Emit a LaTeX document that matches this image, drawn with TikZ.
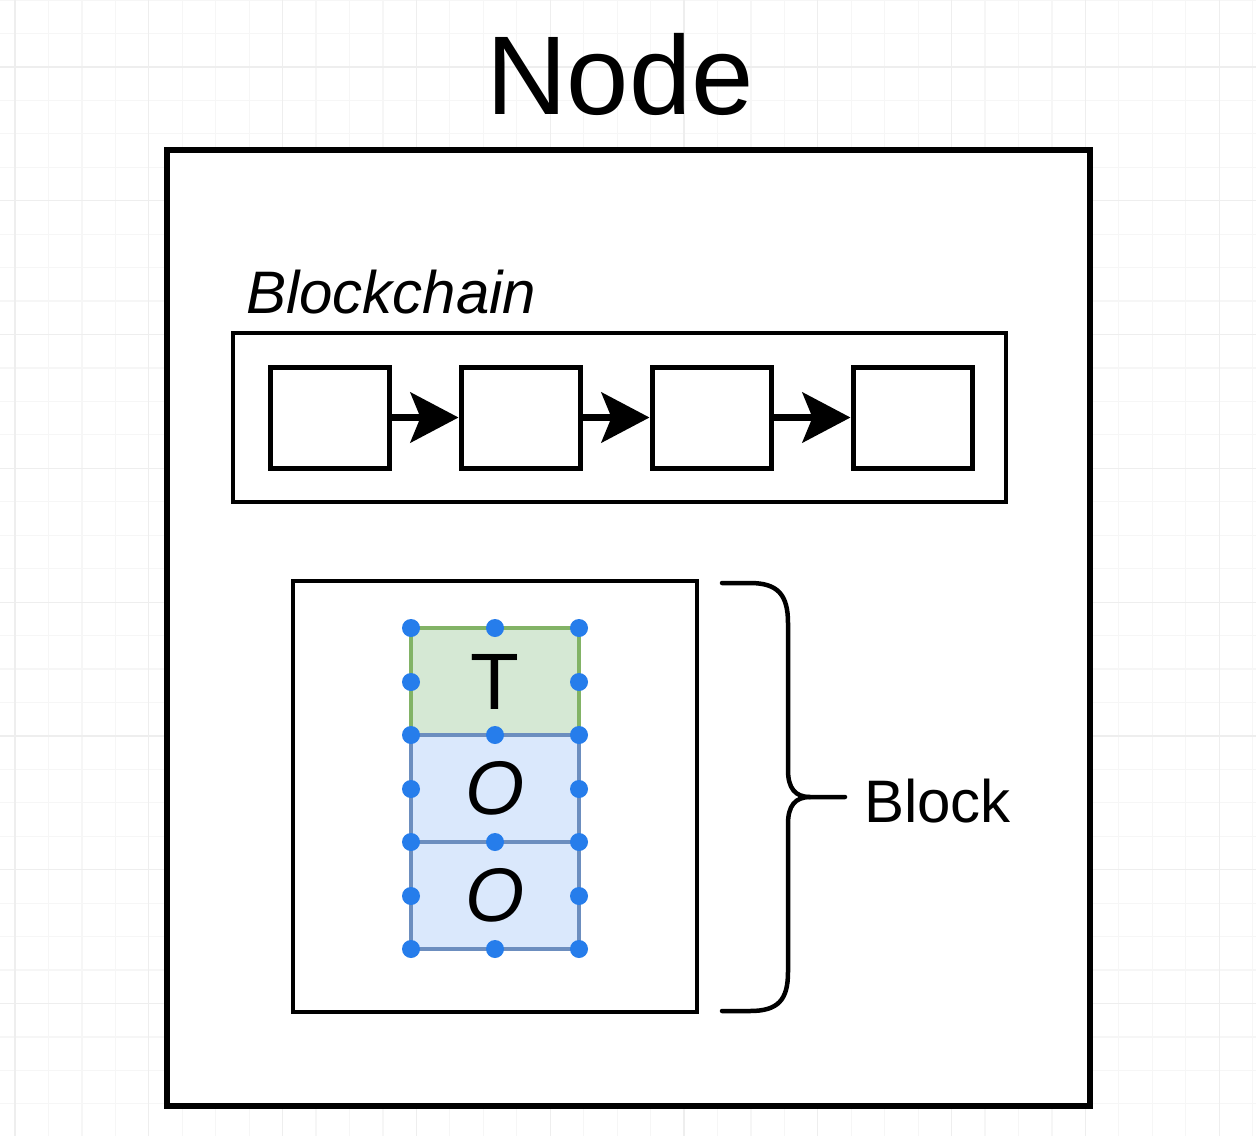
\documentclass[tikz,border=0pt]{standalone}
\usepackage{fontspec}
\setmainfont{Liberation Sans}
\usetikzlibrary{arrows.meta}
\definecolor{gridminor}{RGB}{246,246,246}
\definecolor{gridmajor}{RGB}{238,238,238}
\definecolor{txfill}{HTML}{D5E8D4}
\definecolor{txline}{HTML}{82B366}
\definecolor{opfill}{HTML}{DAE8FC}
\definecolor{opline}{HTML}{6C8EBF}
\definecolor{handle}{RGB}{38,125,235}
\begin{document}
\begin{tikzpicture}[x=1pt,y=-1pt,
  frame/.style={rectangle, draw=black, fill=white, line width=5pt, inner sep=0pt},
  chainblock/.style={frame, minimum width=119pt, minimum height=101pt},
  link/.style={line width=7pt, -{Stealth[length=48pt, width=50pt, inset=10pt]}},
  cell/.style={rectangle, line width=3.5pt, inner sep=0pt, minimum width=168pt, minimum height=107pt},
  txcell/.style={cell, draw=txline, fill=txfill},
  opcell/.style={cell, draw=opline, fill=opfill},
  grip/.style={fill=handle},
  label/.style={text=black, inner sep=0pt}]

\useasboundingbox (0,0) rectangle (1256,1136);
\fill[white] (0,0) rectangle (1256,1136);

% faint canvas grid
\foreach \k in {0,...,37} \draw[gridminor, line width=1.2pt] ({15+33.45*\k},0) -- ++(0,1136);
\foreach \k in {0,...,34} \draw[gridminor, line width=1.2pt] (0,{33.45*\k}) -- ++(1256,0);
\foreach \k in {0,...,9} \draw[gridmajor, line width=1.2pt] ({15+133.8*\k},0) -- ++(0,1136);
\foreach \k in {0,...,8} \draw[gridmajor, line width=1.2pt] (0,{66.9+133.8*\k}) -- ++(1256,0);

% title
\node[label, anchor=base, font=\fontsize{112}{120}\selectfont] (title) at (620,114) {Node};

% node container
\node[frame, line width=5.5pt, minimum width=923pt, minimum height=956pt] (nodebox) at (628.5,628) {};

% blockchain
\node[label, anchor=base west, font=\fontsize{60}{66}\selectfont\itshape] (chainlbl) at (246,313) {Blockchain};
\node[frame, line width=4.5pt, minimum width=773pt, minimum height=169pt] (chainbox) at (619.5,417.5) {};
\node[chainblock] (b1) at (329.5,417.5) {};
\node[chainblock] (b2) at (520.5,417.5) {};
\node[chainblock] (b3) at (711.5,417.5) {};
\node[chainblock] (b4) at (912.5,417.5) {};
\draw[link] (b1.east) -- (b2.west);
\draw[link] (b2.east) -- (b3.west);
\draw[link] (b3.east) -- (b4.west);

% single block with its contents
\node[frame, line width=4.5pt, minimum width=404pt, minimum height=431pt] (blockbox) at (495,796.5) {};
\node[txcell] (tx) at (495,681.5) {};
\node[opcell] (op1) at (495,788.5) {};
\node[opcell] (op2) at (495,895.5) {};
\node[label, font=\fontsize{80}{86}\selectfont] (txt) at (tx) {T};
\node[label, font=\fontsize{76}{82}\selectfont\itshape] (op1t) at (op1) {O};
\node[label, font=\fontsize{76}{82}\selectfont\itshape] (op2t) at (op2) {O};

% selection handles
\foreach \y in {628,682,735,789,842,896,949} {
  \fill[grip] (411,\y) circle (9pt);
  \fill[grip] (579,\y) circle (9pt);
}
\foreach \y in {628,735,842,949} \fill[grip] (495,\y) circle (9pt);

% brace
\coordinate (bracetip) at (845,797);
\draw[line width=4.5pt, line cap=round, line join=round]
  (722,583) -- (750,583) .. controls (778,583) and (788,595) .. (788,623)
  -- (788,770) .. controls (788,788) and (795,797) .. (810,797) -- (bracetip);
\draw[line width=4.5pt, line cap=round, line join=round]
  (810,797) .. controls (795,797) and (788,806) .. (788,824)
  -- (788,972) .. controls (788,1000) and (778,1011) .. (750,1011) -- (722,1011);
\node[label, anchor=base west, font=\fontsize{60}{66}\selectfont] (blocklbl) at (864,822) {Block};

\end{tikzpicture}
\end{document}
